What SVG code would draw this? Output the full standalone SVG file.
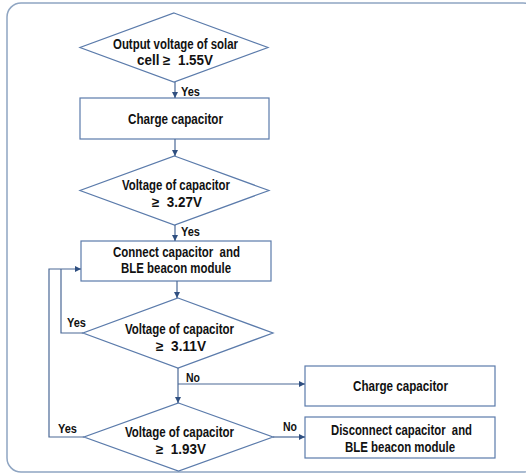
<svg xmlns="http://www.w3.org/2000/svg" width="526" height="476" viewBox="0 0 526 476">
<defs>
<style>
.shape{fill:#fff;stroke:#5b7bab;stroke-width:1.2}
.t{font-family:"Liberation Sans",Arial,sans-serif;font-weight:bold;font-size:14px;fill:#111;text-anchor:middle}
.l{font-family:"Liberation Sans",Arial,sans-serif;font-weight:bold;font-size:13.5px;fill:#111}
.c{fill:none;stroke:#4a6896;stroke-width:1.2}
</style>
<marker id="ah" viewBox="0 0 6 6" refX="6" refY="3" markerWidth="6" markerHeight="6" markerUnits="userSpaceOnUse" orient="auto">
<path d="M0,0L6,3L0,6z" fill="#2f4f80"/>
</marker>
</defs>
<rect x="7" y="3" width="530" height="469" rx="14" fill="#fff" stroke="#8fa5c2" stroke-width="1.5"/>
<g id="d1">
<polygon class="shape" points="174,13 268,47.5 174,82 80,47.5"/>
<text class="t" x="175.5" y="48.5" textLength="125" lengthAdjust="spacingAndGlyphs">Output voltage of solar</text>
<text class="t" x="175" y="65" textLength="76" lengthAdjust="spacingAndGlyphs" xml:space="preserve">cell ≥  1.55V</text>
</g>
<g id="b1">
<rect class="shape" x="80" y="98" width="189" height="41"/>
<text class="t" x="175.5" y="124" textLength="95" lengthAdjust="spacingAndGlyphs">Charge capacitor</text>
</g>
<g id="d2">
<polygon class="shape" points="174.5,156 269,190.5 174.5,225 80,190.5"/>
<text class="t" x="176" y="189.5" textLength="108" lengthAdjust="spacingAndGlyphs">Voltage of capacitor</text>
<text class="t" x="177" y="206.5" textLength="50" lengthAdjust="spacingAndGlyphs" xml:space="preserve">≥  3.27V</text>
</g>
<g id="b2">
<rect class="shape" x="81" y="241" width="190" height="40"/>
<text class="t" x="176.5" y="256.5" textLength="127" lengthAdjust="spacingAndGlyphs" xml:space="preserve">Connect capacitor  and</text>
<text class="t" x="176" y="273" textLength="110" lengthAdjust="spacingAndGlyphs">BLE beacon module</text>
</g>
<g id="d3">
<polygon class="shape" points="178,298 273,333 178,368 83,333"/>
<text class="t" x="179.5" y="334" textLength="109" lengthAdjust="spacingAndGlyphs">Voltage of capacitor</text>
<text class="t" x="181" y="351" textLength="50" lengthAdjust="spacingAndGlyphs" xml:space="preserve">≥  3.11V</text>
</g>
<g id="b3">
<rect class="shape" x="305" y="366" width="190" height="40"/>
<text class="t" x="400.5" y="391" textLength="95" lengthAdjust="spacingAndGlyphs">Charge capacitor</text>
</g>
<g id="d4">
<polygon class="shape" points="178.5,403 273,437 178.5,471 84,437"/>
<text class="t" x="179.5" y="437" textLength="109" lengthAdjust="spacingAndGlyphs">Voltage of capacitor</text>
<text class="t" x="181" y="454" textLength="50" lengthAdjust="spacingAndGlyphs" xml:space="preserve">≥  1.93V</text>
</g>
<g id="b4">
<rect class="shape" x="305" y="417" width="190" height="41"/>
<text class="t" x="401.5" y="435" textLength="141" lengthAdjust="spacingAndGlyphs" xml:space="preserve">Disconnect capacitor  and</text>
<text class="t" x="400" y="452" textLength="110" lengthAdjust="spacingAndGlyphs">BLE beacon module</text>
</g>
<g id="connectors">
<line class="c" x1="175" y1="82" x2="175" y2="98" marker-end="url(#ah)"/>
<line class="c" x1="175" y1="139" x2="175" y2="156" marker-end="url(#ah)"/>
<line class="c" x1="175" y1="225" x2="175" y2="241" marker-end="url(#ah)"/>
<line class="c" x1="177" y1="281" x2="177" y2="298" marker-end="url(#ah)"/>
<line class="c" x1="178" y1="368" x2="178" y2="403" marker-end="url(#ah)"/>
<polyline class="c" points="178,384 305,384" marker-end="url(#ah)"/>
<line class="c" x1="273" y1="437" x2="305" y2="437" marker-end="url(#ah)"/>
<polyline class="c" points="83,333 61,333 61,269"/>
<polyline class="c" points="84,437 49,437 49,269 81,269" marker-end="url(#ah)"/>
<text class="l" x="181" y="95.5" textLength="19" lengthAdjust="spacingAndGlyphs">Yes</text>
<text class="l" x="181" y="236" textLength="19" lengthAdjust="spacingAndGlyphs">Yes</text>
<text class="l" x="67" y="326.5" textLength="19" lengthAdjust="spacingAndGlyphs">Yes</text>
<text class="l" x="186" y="381.5" textLength="14" lengthAdjust="spacingAndGlyphs">No</text>
<text class="l" x="58" y="433" textLength="19" lengthAdjust="spacingAndGlyphs">Yes</text>
<text class="l" x="283" y="430.5" textLength="14" lengthAdjust="spacingAndGlyphs">No</text>
</g>
</svg>
